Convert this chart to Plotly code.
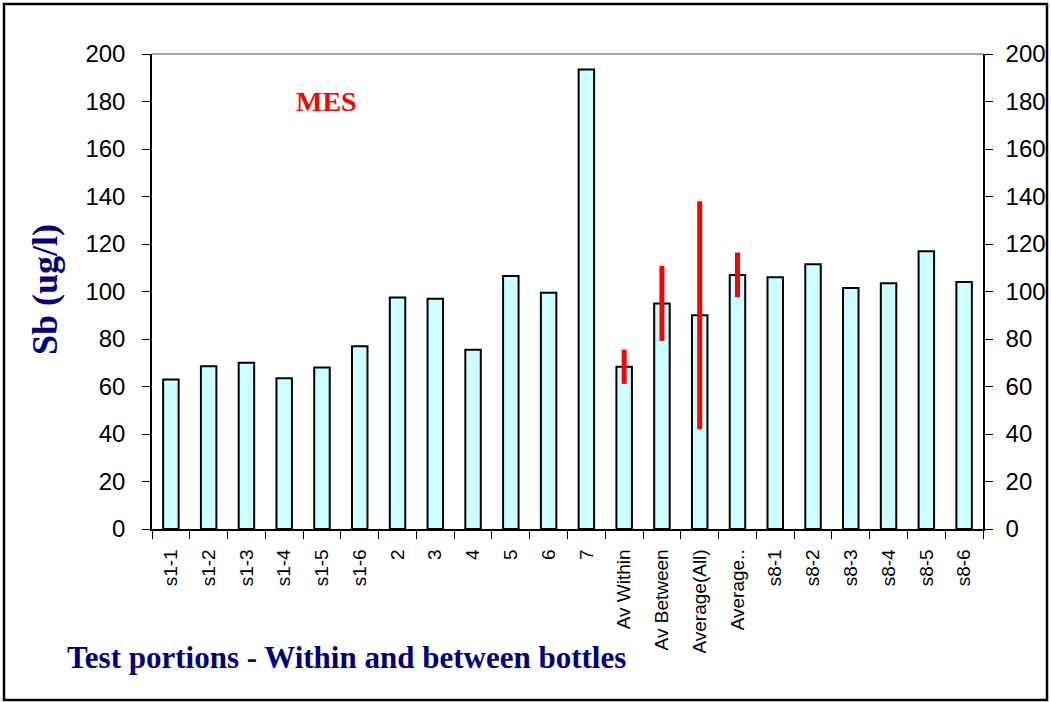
import plotly.graph_objects as go

categories = ["s1-1", "s1-2", "s1-3", "s1-4", "s1-5", "s1-6", "2", "3", "4", "5", "6", "7",
              "Av Within", "Av Between", "Average(All)", "Average..",
              "s8-1", "s8-2", "s8-3", "s8-4", "s8-5", "s8-6"]
values = [63, 68.5, 70, 63.5, 68, 77, 97.5, 97, 75.5, 106.5, 99.5, 193.5,
          68.3, 95, 90, 107,
          106, 111.5, 101.5, 103.5, 117, 104]
errors = [0, 0, 0, 0, 0, 0, 0, 0, 0, 0, 0, 0,
          7.2, 15.8, 48, 9.4,
          0, 0, 0, 0, 0, 0]
y_ticks = [0, 20, 40, 60, 80, 100, 120, 140, 160, 180, 200]

W, H = 1051, 702
L, R, T, B = 152, 983, 54, 529

def px(x):
    return (x - L) / (R - L)

def py(y):
    return (B - y) / (B - T)

fig = go.Figure()
fig.add_trace(go.Bar(
    x=categories, y=values,
    marker=dict(color="#CCFFFF", line=dict(color="black", width=2)),
    width=0.41,
    error_y=dict(type="data", array=errors, visible=True, color="#FF0000",
                 thickness=5, width=0),
    showlegend=False,
))
fig.add_trace(go.Bar(x=[categories[0]], y=[0], yaxis="y2", width=0.01,
                     marker=dict(opacity=0), showlegend=False, hoverinfo="skip"))

axis_font = dict(family="Arial, Liberation Sans", size=24, color="black")
fig.update_layout(
    width=W, height=H, autosize=False,
    margin=dict(l=L, r=W - R, t=T, b=H - B, autoexpand=False),
    paper_bgcolor="white", plot_bgcolor="white",
    barmode="overlay",
    xaxis=dict(type="category", range=[-0.5, len(categories) - 0.5],
               tickson="boundaries", ticks="outside", ticklen=8,
               tickcolor="black", tickangle=-90, showline=True, linecolor="black",
               linewidth=1.5, showgrid=False, ticklabelstandoff=11,
               tickfont=dict(family="Arial, Liberation Sans", size=19, color="black")),
    yaxis=dict(range=[0, 200], tickvals=y_ticks, ticks="outside", ticklen=8,
               tickcolor="black", showline=True, linecolor="black", linewidth=1.5,
               showgrid=False, zeroline=False, tickfont=axis_font, ticklabelstandoff=12),
    yaxis2=dict(range=[0, 200], tickvals=y_ticks, ticks="outside", ticklen=8,
                tickcolor="black", showline=True, linecolor="black", linewidth=1.5,
                showgrid=False, zeroline=False, tickfont=axis_font, ticklabelstandoff=8,
                overlaying="y", side="right"),
    shapes=[
        dict(type="line", xref="paper", yref="paper", x0=0, x1=1, y0=1, y1=1,
             line=dict(color="#888888", width=1.5)),
        dict(type="rect", xref="paper", yref="paper",
             x0=px(4), x1=px(1047), y0=py(700), y1=py(4),
             line=dict(color="black", width=2.5)),
    ],
    annotations=[
        dict(text="<b>Sb (ug/l)</b>", xref="paper", yref="paper", x=px(45), y=py(290),
             xanchor="center", yanchor="middle",
             showarrow=False, textangle=-90,
             font=dict(family="Times New Roman, Liberation Serif", size=36, color="#000080")),
        dict(text="<b>MES</b>", xref="paper", yref="paper", x=px(326), y=py(101),
             xanchor="center", yanchor="middle", showarrow=False,
             font=dict(family="Times New Roman, Liberation Serif", size=28, color="#FF0000")),
        dict(text="<b>Test portions - Within and between bottles</b>", xref="paper", yref="paper",
             x=px(65), y=py(657), xanchor="left", yanchor="middle", showarrow=False,
             font=dict(family="Times New Roman, Liberation Serif", size=31, color="#000080")),
    ],
)

fig.write_html("out.html", config={"displayModeBar": False, "responsive": False},
               post_script="document.body.style.margin='0';document.body.style.overflow='hidden';")
